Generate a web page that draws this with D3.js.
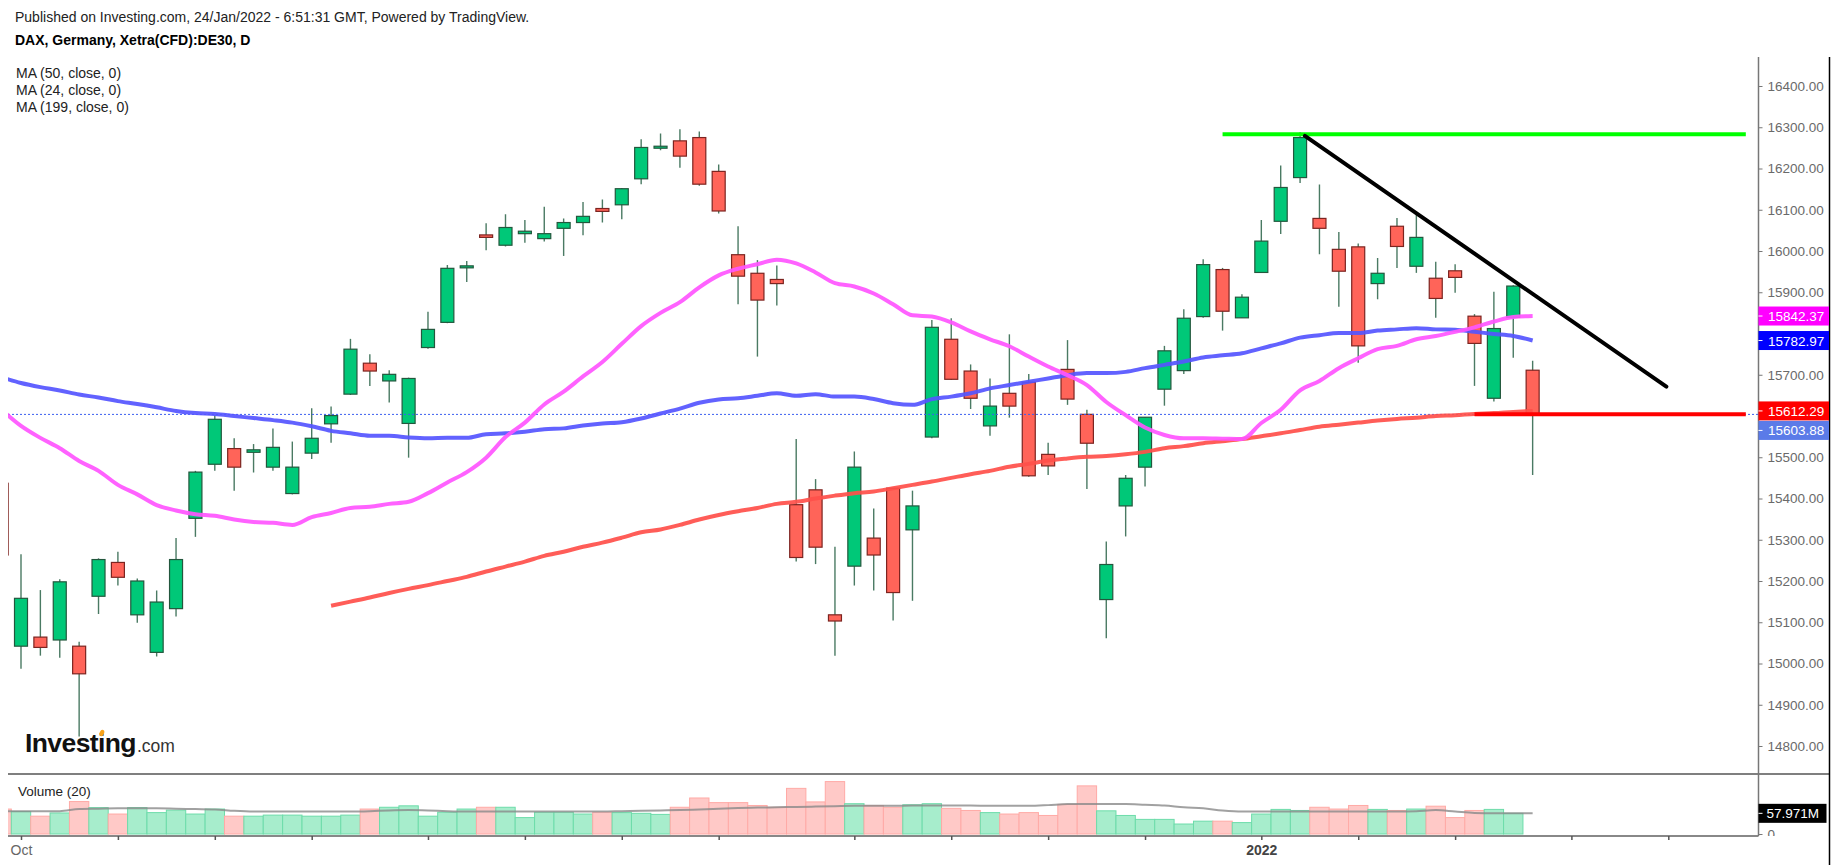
<!DOCTYPE html>
<html>
<head>
<meta charset="utf-8">
<script src="https://cdn.jsdelivr.net/npm/d3@7"></script>
<style>
  body { margin: 0; background: #fff; }
  svg { display: block; }
</style>
</head>
<body>
<svg id="chart" width="1837" height="865"></svg>
<script>
// DAX daily candles, 30 Sep 2021 .. 24 Jan 2022
const opens = [15437,15042,15064,15057,15042,15163,15245,15118,15027,15133,
  15352,15483,15521,15512,15476,15412,15510,15581,15653,15728,
  15685,15582,15766,15827,15961,16039,16014,16042,16030,16055,
  16069,16103,16112,16175,16251,16267,16275,16193,15991,15946,
  15931,15385,15421,15118,15236,15304,15425,15324,15549,15786,
  15709,15576,15655,15682,15507,15713,15604,15155,15382,15476,
  15665,15710,15841,15955,15838,15948,16072,16178,16079,16004,
  16010,15921,16060,15963,15934,15952,15842,15643,15839,15711];
const highs = [15450,15265,15178,15204,15053,15255,15271,15206,15177,15304,
  15467,15602,15546,15532,15570,15538,15619,15623,15787,15750,
  15711,15693,15853,15966,15976,16067,16089,16075,16107,16079,
  16119,16125,16153,16271,16285,16295,16290,16210,16060,15978,
  15965,15544,15447,15283,15514,15376,15425,15419,15833,15837,
  15725,15691,15798,15702,15535,15784,15615,15296,15457,15597,
  15770,15859,15980,15959,15895,16075,16207,16288,16161,16046,
  16018,15983,16080,16088,15974,15968,15847,15901,15917,15734];
const lows = [15250,14987,15019,15014,14823,15120,15189,15099,15017,15114,
  15307,15467,15419,15463,15467,15410,15496,15535,15651,15673,
  15633,15499,15763,15825,15925,16002,16011,16020,16023,15988,
  16038,16069,16077,16162,16244,16202,16158,16091,15871,15744,
  15868,15247,15241,15019,15189,15177,15104,15152,15546,15687,
  15617,15552,15596,15453,15457,15627,15423,15061,15308,15429,
  15625,15702,15838,15807,15838,15948,16041,16165,15992,15865,
  15729,15883,15959,15947,15838,15899,15673,15635,15741,15457];
const closes = [15263,15158,15039,15198,14975,15252,15209,15200,15149,15252,
  15464,15592,15476,15518,15524,15476,15546,15601,15762,15709,
  15701,15691,15810,15958,15964,16033,16057,16048,16042,16069,
  16084,16096,16151,16251,16254,16230,16162,16097,15939,15881,
  15921,15257,15282,15103,15476,15263,15172,15382,15815,15689,
  15643,15624,15624,15455,15479,15641,15534,15240,15449,15597,
  15758,15837,15967,15854,15888,16024,16154,16275,16055,15951,
  15770,15946,16011,16033,15885,15936,15776,15812,15915,15603.88];

// volume, millions
const volumes = [70,63,50,59,91,74,56,74,60,67,
  56,70,50,50,53,53,50,50,53,70,
  75,79,50,61,70,75,75,46,61,61,
  56,61,60,58,55,75,101,88,88,80,
  75,128,90,147,85,80,75,82,85,72,
  66,60,56,60,52,83,135,65,52,41,
  41,28,36,36,32,56,69,66,75,70,
  80,69,66,70,78,46,66,69,57.971,0];
const volumeMa = [64,64,64,64,70,71,72,72,72,71,
  70,69,65,63,63,63,63,63,63,64,
  66,67,66,64,63,63,63,63,63,63,
  63,63,64,65,66,67,69,71,73,74,
  75,76,77,78,79,79,79,80,80,80,
  80,79,79,79,81,84,84,84,84,82,
  80,75,72,66,63,63,63,63,63,63,
  63,63,63,64,67,63,59,58,58,58];

// moving averages as drawn
const ma50 = [15694,15680,15670,15662,15652,15645,15636,15629,15621,15612,
  15607,15605,15600,15595,15590,15584,15575,15564,15558,15552,
  15552,15548,15546,15547,15547,15556,15558,15562,15568,15570,
  15577,15582,15585,15594,15606,15618,15632,15640,15643,15649,
  15655,15649,15653,15647,15647,15641,15631,15627,15641,15647,
  15655,15667,15675,15683,15691,15699,15704,15704,15707,15716,
  15724,15732,15742,15747,15752,15764,15776,15790,15796,15801,
  15801,15807,15810,15813,15810,15809,15804,15799,15794,15782.97];
const ma24 = [15615,15576,15547,15522,15491,15467,15433,15410,15384,15371,
  15362,15358,15349,15343,15341,15336,15355,15365,15377,15380,
  15387,15392,15413,15439,15464,15499,15549,15584,15628,15659,
  15696,15731,15775,15818,15850,15876,15912,15941,15957,15968,
  15979,15970,15948,15922,15914,15897,15871,15844,15841,15827,
  15805,15786,15769,15744,15720,15699,15675,15634,15602,15572,
  15554,15546,15546,15545,15544,15583,15615,15662,15685,15716,
  15740,15762,15770,15786,15794,15804,15815,15829,15840,15842.37];
const ma199 = [null,null,null,null,null,null,null,null,null,null,
  null,null,null,null,null,null,null,15140,15150,15160,
  15171,15181,15190,15200,15210,15223,15235,15247,15261,15271,
  15283,15293,15305,15318,15325,15336,15349,15360,15369,15377,
  15387,15392,15400,15407,15413,15417,15425,15433,15441,15450,
  15459,15467,15477,15484,15492,15497,15501,15503,15507,15513,
  15522,15527,15534,15539,15544,15551,15558,15566,15574,15579,
  15584,15589,15593,15596,15600,15602,15605,15607,15610,15612.29];

// axes
const priceTicks = [14800,14900,15000,15100,15200,15300,15400,15500,15600,
  15700,15800,15900,16000,16100,16200,16300,16400];
const timeTicks = [1,6,11,16,22,27,32,37,44,49,54,59,65,70,75,81,86];
const timeLabels = new Map([[1, "Oct"], [65, "2022"]]);
const volumeTicks = [0];

// user drawings: [bar index, price]
const resistance = [[63, 16283], [90, 16283]];
const trendLine = [[67.25, 16279], [85.9, 15671]];
const support = [[76, 15604], [90, 15604]];

const FONT = 'Arial, "Liberation Sans", sans-serif';
const W = 1837, H = 865;
const plotL = 8, plotR = 1758.5, plotT = 57, priceB = 774, volB = 836, frameR = 1829.5;

const svg = d3.select("#chart");
svg.append("rect").attr("width", W).attr("height", H).attr("fill", "#fff");

const x = d3.scaleLinear().domain([0, 90]).range([1.62, 1745.82]);
const y = d3.scaleLinear().domain([14800, 16400]).range([746, 86]);
const yv = d3.scaleLinear().domain([0, 100]).range([834, 798.35]);
const step = x(1) - x(0);

const defs = svg.append("defs");
defs.append("clipPath").attr("id", "clip-price").append("rect")
  .attr("x", plotL).attr("y", plotT).attr("width", plotR - plotL).attr("height", priceB - plotT);
defs.append("clipPath").attr("id", "clip-vol").append("rect")
  .attr("x", plotL).attr("y", priceB).attr("width", plotR - plotL).attr("height", volB - priceB);
defs.append("clipPath").attr("id", "clip-volaxis").append("rect")
  .attr("x", plotR).attr("y", priceB).attr("width", 80).attr("height", volB - priceB);

const candles = closes.map((c, i) => ({ i, o: opens[i], h: highs[i], l: lows[i], c, up: c >= opens[i] }));

// ---- volume panel
const gVol = svg.append("g").attr("clip-path", "url(#clip-vol)");
gVol.selectAll("rect.vol")
  .data(candles.filter(d => volumes[d.i] > 0))
  .join("rect")
  .attr("class", "vol")
  .attr("x", d => x(d.i) - step / 2)
  .attr("width", step)
  .attr("y", d => yv(volumes[d.i]))
  .attr("height", d => yv(0) - yv(volumes[d.i]))
  .attr("fill", d => d.up ? "#a7edcc" : "#ffc9c7")
  .attr("stroke", d => d.up ? "#6ddcaa" : "#ffaaa6")
  .attr("stroke-width", 1);

gVol.append("path")
  .datum(volumeMa)
  .attr("fill", "none")
  .attr("stroke", "#8a8a8a")
  .attr("stroke-opacity", 0.8)
  .attr("stroke-width", 2)
  .attr("d", d3.line().x((d, i) => x(i)).y(d => yv(d)).curve(d3.curveMonotoneX));

svg.append("text").attr("x", 18).attr("y", 796)
  .attr("font-family", FONT).attr("font-size", 13.5).attr("fill", "#222")
  .text("Volume (20)");

// ---- price panel
const gPrice = svg.append("g").attr("clip-path", "url(#clip-price)");

gPrice.selectAll("line.wick")
  .data(candles)
  .join("line")
  .attr("class", "wick")
  .attr("x1", d => x(d.i)).attr("x2", d => x(d.i))
  .attr("y1", d => y(d.h)).attr("y2", d => y(d.l))
  .attr("stroke", "#4a7a63")
  .attr("stroke-width", 1.4);

gPrice.selectAll("rect.body")
  .data(candles)
  .join("rect")
  .attr("class", "body")
  .attr("x", d => x(d.i) - 6.5)
  .attr("width", 13)
  .attr("y", d => y(Math.max(d.o, d.c)))
  .attr("height", d => Math.max(2, Math.abs(y(d.o) - y(d.c))))
  .attr("fill", d => d.up ? "#00c878" : "#ff6459")
  .attr("stroke", d => d.up ? "#23573d" : "#7c2420")
  .attr("stroke-width", 1.2);

// current price dotted line
gPrice.append("line")
  .attr("x1", plotL).attr("x2", plotR)
  .attr("y1", y(closes[79])).attr("y2", y(closes[79]))
  .attr("stroke", "#3b5ef0").attr("stroke-width", 1).attr("stroke-dasharray", "2,2");

const maLine = d3.line()
  .defined(d => d != null)
  .x((d, i) => x(i))
  .y(d => y(d))
  .curve(d3.curveMonotoneX);

[[ma199, "#ff4f4a"], [ma50, "#5555ff"], [ma24, "#ff55ff"]].forEach(([series, color]) => {
  gPrice.append("path")
    .datum(series)
    .attr("fill", "none")
    .attr("stroke", color)
    .attr("stroke-opacity", 0.92)
    .attr("stroke-width", 4)
    .attr("stroke-linejoin", "round")
    .attr("d", maLine);
});

const drawLine = d3.line().x(d => x(d[0])).y(d => y(d[1]));
gPrice.append("path").datum(resistance).attr("d", drawLine)
  .attr("stroke", "#00ff00").attr("stroke-width", 4);
gPrice.append("path").datum(support).attr("d", drawLine)
  .attr("stroke", "#ff0000").attr("stroke-width", 4);
gPrice.append("path").datum(trendLine).attr("d", drawLine)
  .attr("stroke", "#000").attr("stroke-width", 4).attr("stroke-linecap", "round");

// ---- frame lines
svg.append("line").attr("x1", plotL).attr("x2", frameR).attr("y1", priceB).attr("y2", priceB)
  .attr("stroke", "#555").attr("stroke-width", 1.5);
svg.append("line").attr("x1", plotL).attr("x2", plotR).attr("y1", volB).attr("y2", volB)
  .attr("stroke", "#888").attr("stroke-width", 2);
svg.append("line").attr("x1", plotR).attr("x2", plotR).attr("y1", plotT).attr("y2", volB)
  .attr("stroke", "#777").attr("stroke-width", 1.5);
svg.append("line").attr("x1", frameR).attr("x2", frameR).attr("y1", plotT).attr("y2", H)
  .attr("stroke", "#000").attr("stroke-width", 1.5);

// ---- last-value tags (positions worked out first so covered ticks can be skipped)
const fmt = d3.format(".2f");
const tags = [
  { v: ma24[79], fill: "#ff00ff" },
  { v: ma50[79], fill: "#0000ff" },
  { v: ma199[79], fill: "#ff0000" },
  { v: closes[79], fill: "#5b7be8" }
].map(t => ({ ...t, cy: y(t.v) })).sort((a, b) => a.cy - b.cy);
for (let k = 1; k < tags.length; k++) {
  if (tags[k].cy < tags[k - 1].cy + 19.5) tags[k].cy = tags[k - 1].cy + 19.5;
}
const covered = p => tags.some(t => Math.abs(y(p) - t.cy) < 16);

// ---- price axis
const yAxisG = svg.append("g")
  .attr("transform", `translate(${plotR},0)`)
  .call(d3.axisRight(y).tickValues(priceTicks.filter(p => !covered(p)))
    .tickFormat(fmt).tickSize(4).tickPadding(5));
yAxisG.attr("font-family", FONT).attr("font-size", 13.5);
yAxisG.select(".domain").remove();
yAxisG.selectAll(".tick line").attr("stroke", "#777");
yAxisG.selectAll(".tick text").attr("fill", "#6a6a6a");

const tagG = svg.append("g").attr("font-family", FONT).attr("font-size", 13.5);
tags.forEach(t => {
  tagG.append("rect").attr("x", plotR).attr("y", t.cy - 9.5).attr("width", frameR - plotR - 0.5).attr("height", 19)
    .attr("fill", t.fill);
  tagG.append("line").attr("x1", plotR).attr("x2", plotR + 4).attr("y1", t.cy).attr("y2", t.cy)
    .attr("stroke", "#fff");
  tagG.append("text").attr("x", plotR + 9.5).attr("y", t.cy + 5).attr("fill", "#fff").text(fmt(t.v));
});

// ---- volume axis
const vAxisG = svg.append("g")
  .attr("clip-path", "url(#clip-volaxis)")
  .append("g")
  .attr("transform", `translate(${plotR},0)`)
  .call(d3.axisRight(yv).tickValues(volumeTicks).tickSize(4).tickPadding(5));
vAxisG.attr("font-family", FONT).attr("font-size", 13.5);
vAxisG.select(".domain").remove();
vAxisG.selectAll(".tick line").attr("stroke", "#777");
vAxisG.selectAll(".tick text").attr("fill", "#6a6a6a");

const lastVol = volumes[78];
const vy = yv(lastVol);
svg.append("rect").attr("x", plotR).attr("y", vy - 9.5).attr("width", 68).attr("height", 19).attr("fill", "#000");
svg.append("line").attr("x1", plotR).attr("x2", plotR + 4).attr("y1", vy).attr("y2", vy).attr("stroke", "#fff");
svg.append("text").attr("x", plotR + 8).attr("y", vy + 5)
  .attr("font-family", FONT).attr("font-size", 13.5).attr("fill", "#fff")
  .text(d3.format(".3f")(lastVol) + "M");

// ---- time axis
const xAxisG = svg.append("g")
  .attr("transform", `translate(0,${volB})`)
  .call(d3.axisBottom(x).tickValues(timeTicks).tickSize(4).tickPadding(5)
    .tickFormat(i => timeLabels.get(i) || ""));
xAxisG.attr("font-family", FONT).attr("font-size", 14);
xAxisG.select(".domain").remove();
xAxisG.selectAll(".tick line").attr("stroke", "#555").attr("stroke-width", 1.5);
xAxisG.selectAll(".tick text")
  .attr("fill", d => d === 65 ? "#444" : "#666")
  .attr("font-weight", d => d === 65 ? "bold" : "normal");

// ---- header texts
const head = svg.append("g").attr("font-family", FONT).attr("font-size", 14).attr("fill", "#222");
head.append("text").attr("x", 15).attr("y", 22)
  .text("Published on Investing.com, 24/Jan/2022 - 6:51:31 GMT, Powered by TradingView.");
head.append("text").attr("x", 15).attr("y", 45).attr("font-weight", "bold").attr("fill", "#000")
  .text("DAX, Germany, Xetra(CFD):DE30, D");
["MA (50, close, 0)", "MA (24, close, 0)", "MA (199, close, 0)"].forEach((t, k) => {
  head.append("text").attr("x", 16).attr("y", 77.5 + k * 17).text(t);
});

// ---- watermark logo
const logo = svg.append("g").attr("font-family", FONT);
const word = logo.append("text").attr("x", 25).attr("y", 752)
  .attr("font-size", 26.5).attr("font-weight", "bold").attr("letter-spacing", -0.6).attr("fill", "#111")
  .text("Investing");
const wLen = word.node().getComputedTextLength();
logo.append("text").attr("x", 25 + wLen + 1).attr("y", 752)
  .attr("font-size", 17.5).attr("fill", "#333").text(".com");
const iPos = word.node().getStartPositionOfChar(6);
const iEnd = word.node().getEndPositionOfChar(6);
logo.append("ellipse")
  .attr("cx", (iPos.x + iEnd.x) / 2 + 0.5).attr("cy", 733)
  .attr("rx", 2.2).attr("ry", 3.2)
  .attr("transform", `rotate(25 ${(iPos.x + iEnd.x) / 2 + 0.5} 733)`)
  .attr("fill", "#f7a21b");
</script>
</body>
</html>
